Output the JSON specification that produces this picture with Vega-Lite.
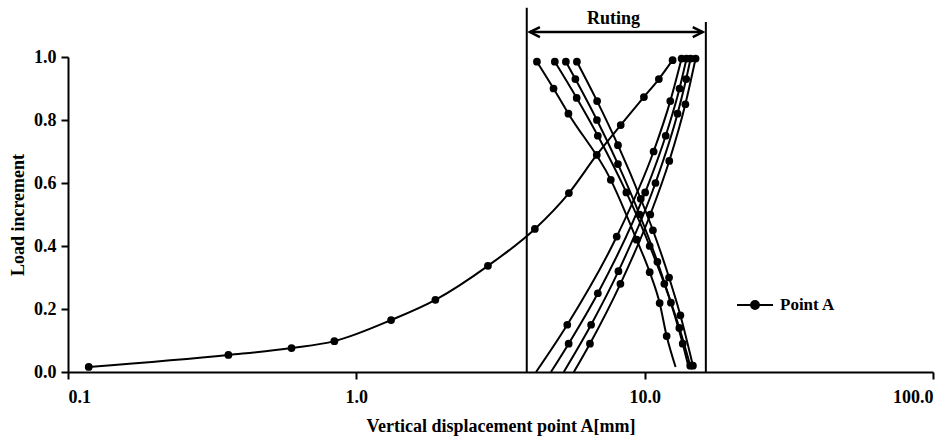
{
  "$schema": "https://vega.github.io/schema/vega-lite/v6.json",
  "autosize": {"type": "none"},
  "padding": {"left": 68, "top": 57, "right": 19, "bottom": 68},
  "width": 865,
  "height": 315,
  "background": "white",
  "config": {
    "view": {"stroke": null},
    "font": "Liberation Serif, Times New Roman, serif",
    "axis": {
      "grid": false,
      "domainColor": "black",
      "domainWidth": 2,
      "tickColor": "black",
      "tickWidth": 2,
      "tickSize": 7,
      "labelColor": "black",
      "titleColor": "black",
      "labelFont": "Liberation Serif, Times New Roman, serif",
      "titleFont": "Liberation Serif, Times New Roman, serif",
      "labelFontSize": 18,
      "titleFontSize": 18,
      "labelFontWeight": "bold",
      "titleFontWeight": "bold"
    }
  },
  "datasets": {
    "curves": [
      {"s": "M", "x": 0.118, "y": 0.016, "m": 1},
      {"s": "M", "x": 0.36, "y": 0.054, "m": 1},
      {"s": "M", "x": 0.596, "y": 0.076, "m": 1},
      {"s": "M", "x": 0.839, "y": 0.098, "m": 1},
      {"s": "M", "x": 1.32, "y": 0.165, "m": 1},
      {"s": "M", "x": 1.88, "y": 0.229, "m": 1},
      {"s": "M", "x": 2.86, "y": 0.337, "m": 1},
      {"s": "M", "x": 4.16, "y": 0.454, "m": 1},
      {"s": "M", "x": 5.46, "y": 0.568, "m": 1},
      {"s": "M", "x": 6.82, "y": 0.689, "m": 1},
      {"s": "M", "x": 8.26, "y": 0.784, "m": 1},
      {"s": "M", "x": 9.94, "y": 0.873, "m": 1},
      {"s": "M", "x": 11.2, "y": 0.93, "m": 1},
      {"s": "M", "x": 12.5, "y": 0.99, "m": 1},

      {"s": "A", "x": 4.23, "y": 0.985, "m": 1},
      {"s": "A", "x": 4.83, "y": 0.9, "m": 1},
      {"s": "A", "x": 5.44, "y": 0.82, "m": 1},
      {"s": "A", "x": 7.63, "y": 0.61, "m": 1},
      {"s": "A", "x": 9.38, "y": 0.42, "m": 1},
      {"s": "A", "x": 10.41, "y": 0.317, "m": 1},
      {"s": "A", "x": 11.27, "y": 0.219, "m": 1},
      {"s": "A", "x": 11.92, "y": 0.114, "m": 1},
      {"s": "A", "x": 12.8, "y": 0.016, "m": 0},

      {"s": "B", "x": 4.88, "y": 0.985, "m": 1},
      {"s": "B", "x": 5.81, "y": 0.87, "m": 1},
      {"s": "B", "x": 6.88, "y": 0.75, "m": 1},
      {"s": "B", "x": 8.64, "y": 0.57, "m": 1},
      {"s": "B", "x": 10.41, "y": 0.4, "m": 1},
      {"s": "B", "x": 11.7, "y": 0.28, "m": 1},
      {"s": "B", "x": 13.19, "y": 0.14, "m": 1},
      {"s": "B", "x": 14.39, "y": 0.02, "m": 1},

      {"s": "C", "x": 5.33, "y": 0.985, "m": 1},
      {"s": "C", "x": 5.75, "y": 0.93, "m": 1},
      {"s": "C", "x": 6.83, "y": 0.8, "m": 1},
      {"s": "C", "x": 8.08, "y": 0.66, "m": 1},
      {"s": "C", "x": 9.6, "y": 0.5, "m": 1},
      {"s": "C", "x": 11.07, "y": 0.35, "m": 1},
      {"s": "C", "x": 12.33, "y": 0.22, "m": 1},
      {"s": "C", "x": 13.55, "y": 0.09, "m": 1},
      {"s": "C", "x": 14.2, "y": 0.016, "m": 0},

      {"s": "D", "x": 5.82, "y": 0.985, "m": 1},
      {"s": "D", "x": 6.84, "y": 0.86, "m": 1},
      {"s": "D", "x": 8.08, "y": 0.72, "m": 1},
      {"s": "D", "x": 9.69, "y": 0.55, "m": 1},
      {"s": "D", "x": 10.68, "y": 0.45, "m": 1},
      {"s": "D", "x": 12.15, "y": 0.3, "m": 1},
      {"s": "D", "x": 13.3, "y": 0.18, "m": 1},
      {"s": "D", "x": 14.7, "y": 0.02, "m": 1},

      {"s": "E", "x": 4.2, "y": 0.0, "m": 0},
      {"s": "E", "x": 5.39, "y": 0.15, "m": 1},
      {"s": "E", "x": 8.0, "y": 0.43, "m": 1},
      {"s": "E", "x": 10.74, "y": 0.7, "m": 1},
      {"s": "E", "x": 12.27, "y": 0.86, "m": 1},
      {"s": "E", "x": 13.43, "y": 0.995, "m": 1},

      {"s": "F", "x": 4.73, "y": 0.0, "m": 0},
      {"s": "F", "x": 5.45, "y": 0.09, "m": 1},
      {"s": "F", "x": 6.88, "y": 0.25, "m": 1},
      {"s": "F", "x": 10.04, "y": 0.57, "m": 1},
      {"s": "F", "x": 11.83, "y": 0.75, "m": 1},
      {"s": "F", "x": 13.21, "y": 0.9, "m": 1},
      {"s": "F", "x": 13.97, "y": 0.995, "m": 1},

      {"s": "G", "x": 5.24, "y": 0.0, "m": 0},
      {"s": "G", "x": 6.52, "y": 0.15, "m": 1},
      {"s": "G", "x": 8.11, "y": 0.32, "m": 1},
      {"s": "G", "x": 10.9, "y": 0.6, "m": 1},
      {"s": "G", "x": 13.0, "y": 0.82, "m": 1},
      {"s": "G", "x": 13.93, "y": 0.93, "m": 1},
      {"s": "G", "x": 14.43, "y": 0.995, "m": 1},

      {"s": "H", "x": 5.68, "y": 0.0, "m": 0},
      {"s": "H", "x": 6.46, "y": 0.09, "m": 1},
      {"s": "H", "x": 8.24, "y": 0.28, "m": 1},
      {"s": "H", "x": 10.46, "y": 0.5, "m": 1},
      {"s": "H", "x": 12.17, "y": 0.67, "m": 1},
      {"s": "H", "x": 13.84, "y": 0.85, "m": 1},
      {"s": "H", "x": 15.02, "y": 0.995, "m": 1}
    ],
    "bounds": [
      {"x": 3.9, "ya": 0, "yb": 1.156},
      {"x": 16.3, "ya": 0, "yb": 1.111}
    ],
    "arrow": [
      {"x": 4.0, "x2": 15.9, "y": 1.079}
    ],
    "heads": [
      {"x": 4.0, "y": 1.079, "dir": "L"},
      {"x": 15.9, "y": 1.079, "dir": "R"}
    ],
    "note": [
      {"x": 7.8, "y": 1.12, "label": "Ruting"}
    ]
  },
  "encoding": {
    "x": {
      "field": "x",
      "type": "quantitative",
      "scale": {"type": "log", "domain": [0.1, 100], "nice": false},
      "axis": {"values": [0.1, 1, 10, 100], "format": ".1f", "title": "Vertical displacement point A[mm]", "labelPadding": 9, "titlePadding": 11}
    },
    "y": {
      "field": "y",
      "type": "quantitative",
      "scale": {"domain": [0, 1], "nice": false},
      "axis": {"values": [0, 0.2, 0.4, 0.6, 0.8, 1.0], "format": ".1f", "title": "Load increment", "labelPadding": 5, "titlePadding": 6}
    }
  },
  "layer": [
    {
      "data": {"name": "bounds"},
      "mark": {"type": "rule", "color": "black", "strokeWidth": 2},
      "encoding": {
        "y": {"field": "ya", "type": "quantitative"},
        "y2": {"field": "yb"}
      }
    },
    {
      "data": {"name": "arrow"},
      "mark": {"type": "rule", "color": "black", "strokeWidth": 2.5},
      "encoding": {
        "x2": {"field": "x2"}
      }
    },
    {
      "data": {"name": "heads"},
      "mark": {"type": "point", "filled": false, "stroke": "black", "strokeWidth": 2.5, "size": 100, "opacity": 1},
      "encoding": {
        "shape": {
          "field": "dir",
          "type": "nominal",
          "scale": {"domain": ["L", "R"], "range": ["M2,-1L0,0L2,1", "M-2,-1L0,0L-2,1"]},
          "legend": null
        }
      }
    },
    {
      "data": {"name": "note"},
      "mark": {"type": "text", "font": "Liberation Serif, Times New Roman, serif", "fontSize": 18, "fontWeight": "bold", "color": "black", "baseline": "middle", "align": "center"},
      "encoding": {
        "text": {"field": "label"}
      }
    },
    {
      "data": {"name": "curves"},
      "transform": [{"calculate": "'Point A'", "as": "name"}],
      "mark": {"type": "line", "interpolate": "monotone", "strokeWidth": 2},
      "encoding": {
        "detail": {"field": "s"},
        "color": {
          "field": "name",
          "type": "nominal",
          "scale": {"range": ["black"]},
          "legend": {
            "title": null,
            "orient": "none",
            "legendX": 668,
            "legendY": 229,
            "labelFont": "Liberation Serif, Times New Roman, serif",
            "labelFontSize": 17,
            "labelFontWeight": "bold",
            "labelColor": "black",
            "labelOffset": 6,
            "symbolSize": 1296,
            "symbolType": "M-1,0L1,0M0.22,0A0.22,0.22 0 1,1 -0.22,0A0.22,0.22 0 1,1 0.22,0Z",
            "symbolStrokeWidth": 2,
            "symbolFillColor": "black",
            "symbolStrokeColor": "black",
            "encode": {
              "symbols": {
                "update": {
                  "fill": {"value": "black"},
                  "stroke": {"value": "black"},
                  "strokeWidth": {"value": 2},
                  "opacity": {"value": 1}
                }
              }
            }
          }
        }
      }
    },
    {
      "data": {"name": "curves"},
      "transform": [{"filter": "datum.m == 1"}],
      "mark": {"type": "point", "filled": true, "color": "black", "size": 60, "opacity": 1}
    }
  ]
}
